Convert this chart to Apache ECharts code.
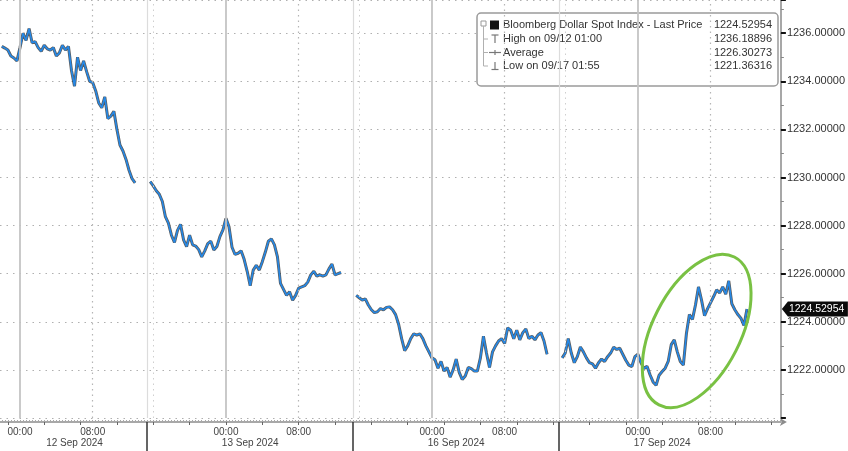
<!DOCTYPE html>
<html><head><meta charset="utf-8">
<script src="https://cdn.jsdelivr.net/npm/echarts@6/dist/echarts.min.js"></script>
<style>html,body{margin:0;padding:0;background:#fff}#c{width:848px;height:451px}</style>
</head><body><div id="c"></div>
<script>
// Time is measured in 20-minute slots; slot 0 = 12 Sep 2024 00:00, 68 slots per trading session.
const day1Start = -6;
const day1 = [1235.45,1235.38,1235.30,1235.05,1234.97,1234.85,
  1235.40,1236.00,1235.70,1236.19,1235.60,1235.65,1235.40,1235.25,1235.50,1235.35,
  1235.30,1235.40,1235.05,1235.18,1235.50,1235.30,1235.45,1234.45,1233.80,1235.00,
  1234.45,1234.85,1234.40,1234.00,1233.95,1233.60,1233.10,1232.90,1233.35,1232.45,
  1232.55,1232.75,1232.00,1231.35,1231.10,1230.75,1230.30,1229.95,1229.78];
const day2Start = 43;
const day2 = [1229.83,1229.65,1229.45,1229.30,1229.00,1228.37,1228.10,1227.60,1227.30,1227.80,
  1228.05,1227.41,1227.13,1227.60,1227.20,1227.15,1227.00,1226.70,1226.95,1227.25,
  1227.35,1226.99,1227.13,1227.54,1227.82,1228.30,1227.95,1227.10,1226.80,1226.85,
  1226.95,1226.60,1226.10,1225.50,1226.15,1226.35,1226.15,1226.50,1226.90,1227.35,
  1227.45,1227.20,1226.70,1225.60,1225.35,1225.10,1225.25,1224.90,1225.10,1225.40,
  1225.45,1225.50,1225.65,1225.95,1226.10,1225.90,1225.95,1225.90,1225.95,1226.20,
  1226.40,1225.95,1226.00,1226.05];
const day3Start = 111;
const day3 = [1225.10,1225.00,1224.90,1224.95,1224.70,1224.50,1224.38,1224.42,1224.55,1224.50,
  1224.60,1224.62,1224.50,1224.30,1223.90,1223.30,1222.80,1223.00,1223.30,1223.50,
  1223.45,1223.50,1223.30,1223.00,1222.75,1222.50,1222.42,1222.07,1222.35,1221.95,
  1222.10,1221.70,1222.00,1222.45,1221.90,1221.60,1221.75,1222.10,1222.05,1221.95,
  1221.95,1222.50,1223.40,1222.70,1222.10,1222.75,1223.00,1223.20,1223.30,1223.10,
  1223.75,1223.65,1223.30,1223.65,1223.25,1223.55,1223.70,1223.30,1223.40,1223.25,
  1223.45,1223.55,1223.20,1222.65];
const day4Start = 179;
const day4 = [1222.50,1222.70,1223.30,1222.70,1222.30,1222.55,1222.95,1222.75,1222.50,1222.30,
  1222.25,1222.07,1222.30,1222.45,1222.35,1222.55,1222.70,1222.95,1222.85,1222.90,
  1222.65,1222.40,1222.20,1222.14,1222.55,1222.65,1222.30,1222.05,1222.15,1221.80,
  1221.50,1221.36,1221.78,1221.93,1222.07,1222.35,1223.05,1223.25,1222.75,1222.35,
  1222.20,1223.50,1224.30,1224.10,1224.70,1225.45,1224.90,1224.25,1224.55,1224.80,
  1225.05,1225.33,1225.20,1225.45,1225.15,1225.70,1224.75,1224.50,1224.30,1224.15,
  1223.85,1224.52954];

const timeTickSlots = [0, 24, 68, 92, 136, 160, 204, 228];
const timeTickLabels = ['00:00','08:00','00:00','08:00','00:00','08:00','00:00','08:00'];
const midnightSlots = [0, 68, 136, 204];
const morningSlots = [24, 92, 160, 228];
const sessionBreakSlots = [42, 110, 178];
const dayLabelSlots = [18, 76, 144, 212];
const dayLabels = ['12 Sep 2024', '13 Sep 2024', '16 Sep 2024', '17 Sep 2024'];
const yTickValues = [1222, 1224, 1226, 1228, 1230, 1232, 1234, 1236];
const lastPrice = 1224.52954;
const legendNames = ['Bloomberg Dollar Spot Index - Last Price', 'High on 09/12 01:00', 'Average', 'Low on 09/17 01:55'];
const legendValues = ['1224.52954', '1236.18896', '1226.30273', '1221.36316'];
const highlightCenter = [223.4, 1223.62];

const X_MIN = -6.6, X_MAX = 251.2;
const FONT = 'Liberation Sans, Arial, sans-serif';

const seriesData = [];
[[day1Start, day1], [day2Start, day2], [day3Start, day3], [day4Start, day4]].forEach(([st, arr], i) => {
  if (i > 0) seriesData.push([st - 1, '-']);
  arr.forEach((v, j) => seriesData.push([st + j, v]));
});

const slotTicks = [], fourHourTicks = [];
for (let s = -6; s <= 251; s += 1) slotTicks.push(s);
for (let s = -4; s <= 251; s += 12) fourHourTicks.push(s);

const vLines = [];
midnightSlots.forEach(s => vLines.push({xAxis: s, lineStyle: {color: '#c4c4c4', width: 1.8, type: 'solid'}}));
morningSlots.forEach(s => vLines.push({xAxis: s, lineStyle: {color: '#b5b5b5', width: 1.2, type: [1.5, 4]}}));
sessionBreakSlots.forEach(s => {
  vLines.push({xAxis: s, lineStyle: {color: '#dcdcdc', width: 1.2, type: 'solid'}});
  vLines.push({xAxis: s + 2, lineStyle: {color: '#cfcfcf', width: 1, type: [1.5, 4]}});
});

const chart = echarts.init(document.getElementById('c'), null, {renderer: 'canvas'});
chart.setOption({
  animation: false,
  backgroundColor: '#ffffff',
  grid: {left: 0, right: 67, top: 0, bottom: 33, containLabel: false},
  xAxis: [{
    type: 'value', min: X_MIN, max: X_MAX, position: 'bottom', offset: 4,
    axisLine: {show: true, onZero: false, lineStyle: {color: '#8c8c8c', width: 1.5},
      symbol: ['none', 'arrow'], symbolSize: [6, 7], symbolOffset: [0, 6]},
    axisTick: {show: true, inside: true, customValues: slotTicks, length: 2, lineStyle: {color: '#a8a8a8', width: 1}},
    axisLabel: {customValues: timeTickSlots, fontSize: 10, color: '#444', fontFamily: FONT, margin: 5,
      formatter: v => timeTickLabels[timeTickSlots.indexOf(v)] || ''},
    splitLine: {show: false}
  }, {
    type: 'value', min: X_MIN, max: X_MAX, position: 'bottom', offset: 4,
    axisLine: {show: false, onZero: false},
    axisTick: {show: true, customValues: sessionBreakSlots, length: 30, lineStyle: {color: '#333', width: 1.5}},
    axisLabel: {customValues: dayLabelSlots, fontSize: 10, color: '#444', fontFamily: FONT, margin: 16,
      formatter: v => dayLabels[dayLabelSlots.indexOf(v)] || ''},
    splitLine: {show: false}
  }, {
    type: 'value', min: X_MIN, max: X_MAX, position: 'bottom', offset: 4,
    axisLine: {show: false, onZero: false},
    axisTick: {show: true, customValues: fourHourTicks, length: 3, lineStyle: {color: '#666', width: 1}},
    axisLabel: {show: false},
    splitLine: {show: false}
  }],
  yAxis: {
    type: 'value', position: 'right', min: 1220, max: 1237.38, interval: 2,
    axisLine: {show: true, onZero: false, lineStyle: {color: '#8a8a8a', width: 1.5}},
    axisTick: {show: true, length: 5, lineStyle: {color: '#111', width: 2}},
    minorTick: {show: true, splitNumber: 2, length: 3, lineStyle: {color: '#888', width: 1}},
    axisLabel: {color: '#333', fontSize: 11, fontFamily: FONT, margin: 6,
      formatter: v => yTickValues.indexOf(v) >= 0 ? v.toFixed(5) : ''},
    splitLine: {show: true, lineStyle: {color: '#b0b0b0', width: 1.2, type: [1.5, 5]}},
    minorSplitLine: {show: false}
  },
  series: [{
    type: 'line', name: 'grid', data: seriesData, showSymbol: false, silent: true, z: 1,
    lineStyle: {opacity: 0}, connectNulls: false,
    markLine: {silent: true, symbol: ['none', 'none'], label: {show: false}, data: vLines, animation: false}
  }, {
    type: 'line', name: 'outline', data: seriesData, showSymbol: false, z: 2, connectNulls: false,
    lineStyle: {color: '#161616', width: 3, opacity: 0.7}
  }, {
    type: 'line', name: 'Bloomberg Dollar Spot Index', data: seriesData, showSymbol: false, z: 3, connectNulls: false,
    lineStyle: {color: '#2588e6', width: 1.6}
  }]
});

// Annotations positioned through the chart's own scales
const gx = chart.convertToPixel({xAxisIndex: 0}, X_MAX);
const py = chart.convertToPixel({yAxisIndex: 0}, lastPrice);
const ec = chart.convertToPixel({xAxisIndex: 0, yAxisIndex: 0}, highlightCenter);

const legendEls = [
  {type: 'rect', shape: {x: 477, y: 13, width: 301, height: 73, r: 4},
   style: {fill: '#fff', stroke: '#9a9a9a', lineWidth: 1.5}},
  {type: 'rect', shape: {x: 481, y: 21, width: 5, height: 5}, style: {fill: '#fff', stroke: '#9a9a9a', lineWidth: 1}},
  {type: 'line', shape: {x1: 483.5, y1: 26, x2: 483.5, y2: 66}, style: {stroke: '#b0b0b0', lineWidth: 1}},
  {type: 'line', shape: {x1: 483.5, y1: 39, x2: 488, y2: 39}, style: {stroke: '#b0b0b0', lineWidth: 1}},
  {type: 'line', shape: {x1: 483.5, y1: 52.5, x2: 488, y2: 52.5}, style: {stroke: '#b0b0b0', lineWidth: 1}},
  {type: 'line', shape: {x1: 483.5, y1: 66, x2: 488, y2: 66}, style: {stroke: '#b0b0b0', lineWidth: 1}},
  {type: 'rect', shape: {x: 490, y: 20.5, width: 9, height: 9}, style: {fill: '#111'}},
  {type: 'line', shape: {x1: 491.5, y1: 35, x2: 498.5, y2: 35}, style: {stroke: '#777', lineWidth: 1.2}},
  {type: 'line', shape: {x1: 495, y1: 35, x2: 495, y2: 43}, style: {stroke: '#777', lineWidth: 1.2}},
  {type: 'line', shape: {x1: 489, y1: 52.5, x2: 501, y2: 52.5}, style: {stroke: '#777', lineWidth: 1.2}},
  {type: 'line', shape: {x1: 495, y1: 50, x2: 495, y2: 55}, style: {stroke: '#777', lineWidth: 1.2}},
  {type: 'line', shape: {x1: 495, y1: 62, x2: 495, y2: 69.5}, style: {stroke: '#777', lineWidth: 1.2}},
  {type: 'line', shape: {x1: 491.5, y1: 69.5, x2: 498.5, y2: 69.5}, style: {stroke: '#777', lineWidth: 1.2}}
];
const rowY = [25, 39, 52.5, 66];
legendNames.forEach((n, i) => {
  legendEls.push({type: 'text', x: 503, y: rowY[i], style: {text: n, fill: '#333', font: '11px ' + FONT, textVerticalAlign: 'middle', textAlign: 'left'}});
  legendEls.push({type: 'text', x: 772, y: rowY[i], style: {text: legendValues[i], fill: '#333', font: '11px ' + FONT, textVerticalAlign: 'middle', textAlign: 'right'}});
});

chart.setOption({
  graphic: [
    {type: 'group', z: 100, children: legendEls},
    {type: 'ellipse', z: 90, x: ec[0], y: ec[1], rotation: 63 * Math.PI / 180,
     shape: {cx: 0, cy: 0, rx: 83, ry: 44}, style: {fill: 'none', stroke: '#79c143', lineWidth: 3}},
    {type: 'polygon', z: 95, shape: {points: [[gx + 1, py], [gx + 7, py - 7.5], [gx + 67, py - 7.5], [gx + 67, py + 7.5], [gx + 7, py + 7.5]]},
     style: {fill: '#0a0a0a'}},
    {type: 'text', z: 96, x: gx + 8, y: py, style: {text: lastPrice.toFixed(5), fill: '#fff', font: '10.5px ' + FONT, textVerticalAlign: 'middle', textAlign: 'left'}}
  ]
});
</script>
</body></html>
